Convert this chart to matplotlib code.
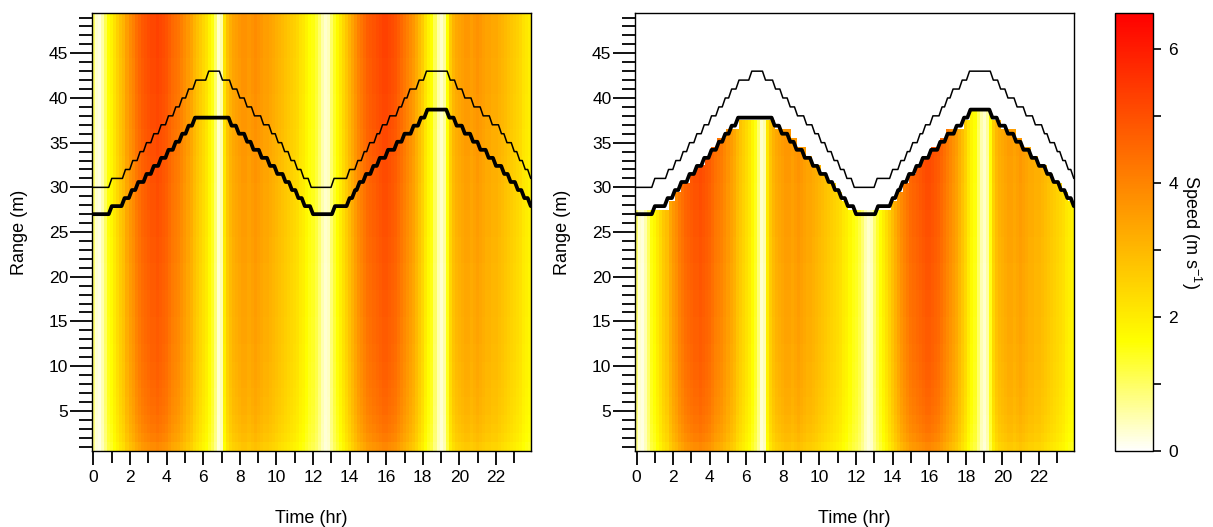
import colorsys

import matplotlib

matplotlib.use("Agg")

import matplotlib.pyplot as plt
import numpy as np
from matplotlib.colors import ListedColormap

plt.rcParams["font.family"] = ["Liberation Sans", "DejaVu Sans"]
plt.rcParams["mathtext.fontset"] = "custom"
plt.rcParams["mathtext.rm"] = "Liberation Sans"
plt.rcParams["mathtext.default"] = "regular"

# 10-minute time bins (hr) and 1 m range bins
n_time = 144
bin_hr = 1 / 6
range_bins = np.arange(1, 50)

# depth-averaged speed per 10-min bin (m/s), one row per 2 hours
speed_by_time = [
    0.9, 0.3, 0.2, 0.5, 1.0, 1.5, 1.7, 2.0, 2.3, 2.6, 2.8, 3.2,
    3.5, 3.7, 4.0, 4.2, 4.4, 4.5, 4.6, 4.7, 4.7, 4.8, 4.7, 4.6,
    4.5, 4.3, 4.1, 4.0, 3.9, 3.7, 3.5, 3.3, 3.1, 2.8, 2.6, 2.4,
    2.2, 2.0, 1.7, 1.4, 0.9, 0.3, 0.5, 2.0, 2.6, 2.9, 3.1, 3.2,
    3.3, 3.4, 3.4, 3.3, 3.4, 3.5, 3.4, 3.3, 3.2, 3.2, 3.1, 3.0,
    2.9, 2.8, 2.7, 2.6, 2.5, 2.4, 2.3, 2.2, 2.0, 1.9, 1.7, 1.5,
    1.4, 1.2, 0.9, 0.5, 0.3, 0.4, 0.9, 1.3, 1.6, 1.9, 2.2, 2.5,
    2.8, 3.1, 3.4, 3.7, 3.9, 4.1, 4.3, 4.4, 4.5, 4.6, 4.7, 4.8,
    4.8, 4.7, 4.6, 4.5, 4.3, 4.1, 3.9, 3.7, 3.5, 3.3, 3.0, 2.7,
    2.4, 2.0, 1.7, 1.5, 1.0, 0.5, 0.3, 0.6, 1.5, 2.4, 2.8, 3.0,
    3.1, 3.2, 3.3, 3.3, 3.2, 3.3, 3.4, 3.3, 3.2, 3.1, 3.1, 3.0,
    3.0, 2.9, 2.8, 2.7, 2.6, 2.5, 2.4, 2.3, 2.2, 2.0, 1.9, 1.8,
]

# relative speed with height above the bed, range bins 1..49
shear_by_range = [
    0.82, 0.87, 0.90, 0.92, 0.94, 0.95, 0.96, 0.97, 0.98, 0.98,
    0.99, 0.99, 1.00, 1.00, 1.00, 1.01, 1.01, 1.01, 1.02, 1.02,
    1.02, 1.03, 1.03, 1.03, 1.04, 1.04, 1.04, 1.05, 1.05, 1.05,
    1.06, 1.06, 1.06, 1.07, 1.07, 1.07, 1.08, 1.08, 1.08, 1.08,
    1.09, 1.09, 1.09, 1.09, 1.10, 1.10, 1.10, 1.10, 1.10,
]

# water depth (thin line): start level, then change times (hr) and new levels (m)
depth_start = 30
depth_change_t = [
    1.0, 1.75, 2.15, 2.55, 2.9, 3.3, 3.7, 4.1, 4.5, 4.85, 5.2, 5.6, 6.3,
    7.05, 7.6, 8.0, 8.4, 8.8, 9.3, 9.75, 10.1, 10.45, 10.8, 11.15, 11.5, 11.9,
    13.15, 14.0, 14.45, 14.8, 15.1, 15.5, 15.8, 16.2, 16.7, 17.0, 17.3, 17.8, 18.2,
    19.5, 19.9, 20.3, 20.8, 21.3, 21.8, 22.3, 22.6, 23.0, 23.3, 23.6, 23.9,
]
depth_change_lv = [
    31, 32, 33, 34, 35, 36, 37, 38, 39, 40, 41, 42, 43,
    42, 41, 40, 39, 38, 37, 36, 35, 34, 33, 32, 31, 30,
    31, 32, 33, 34, 35, 36, 37, 38, 39, 40, 41, 42, 43,
    42, 41, 40, 39, 38, 37, 36, 35, 34, 33, 32, 31,
]

# side-lobe cutoff (thick line)
cutoff_start = 27.0
cutoff_change_t = [
    1.0, 1.7, 2.1, 2.45, 2.9, 3.3, 3.7, 4.1, 4.5, 4.85, 5.2, 5.55,
    7.55, 7.95, 8.4, 8.75, 9.2, 9.65, 10.05, 10.5, 10.85, 11.2, 11.55, 12.0,
    13.2, 14.0, 14.3, 14.55, 14.9, 15.3, 15.65, 16.1, 16.6, 17.0, 17.5, 17.9, 18.25,
    19.45, 19.85, 20.3, 20.75, 21.15, 21.6, 22.0, 22.45, 22.8, 23.2, 23.55, 23.9,
]
cutoff_change_lv = [
    27.9, 28.8, 29.7, 30.6, 31.5, 32.4, 33.3, 34.2, 35.1, 36.0, 36.9, 37.8,
    36.9, 36.0, 35.1, 34.2, 33.3, 32.4, 31.5, 30.6, 29.7, 28.8, 27.9, 27.0,
    27.9, 28.8, 29.7, 30.6, 31.5, 32.4, 33.3, 34.2, 35.1, 36.0, 36.9, 37.8, 38.7,
    37.8, 36.9, 36.0, 35.1, 34.2, 33.3, 32.4, 31.5, 30.6, 29.7, 28.8, 27.9,
]

speed_max = 6.54


def heat_cmap(n=256):
    # reversed R heat.colors: white -> yellow -> orange -> red
    j = n // 4
    i = n - j
    cols = [colorsys.hsv_to_rgb(h, 1, 1) for h in np.linspace(0, 1 / 6, i)]
    cols += [colorsys.hsv_to_rgb(1 / 6, s, 1)
             for s in np.linspace(1 - 1 / (2 * j), 1 / (2 * j), j)]
    return ListedColormap(cols[::-1])


def step_line(start, change_t, change_lv, t_end):
    xs, ys = [-0.1], [start]
    prev = start
    for tc, lv in zip(change_t, change_lv):
        xs += [tc - bin_hr, tc]
        ys += [prev, lv]
        prev = lv
    xs.append(t_end)
    ys.append(prev)
    return np.array(xs), np.array(ys)


def level_at(times, start, change_t, change_lv):
    out = np.full(len(times), float(start))
    for tc, lv in zip(change_t, change_lv):
        out[times >= tc] = lv
    return out


def style_axes(ax):
    ax.set_xlim(-bin_hr / 2, (n_time - 0.5) * bin_hr)
    ax.set_ylim(0.5, 49.5)
    ax.set_xticks(np.arange(0, 24, 2))
    ax.set_xticks(np.arange(1, 24, 2), minor=True)
    ax.set_yticks(np.arange(5, 50, 5))
    ax.set_yticks([v for v in range(1, 50) if v % 5], minor=True)
    ax.tick_params(axis="x", which="major", length=10, width=1.3,
                   labelsize=12.5, pad=4)
    ax.tick_params(axis="x", which="minor", length=8.5, width=1.3)
    ax.tick_params(axis="y", which="major", length=16, width=1.3,
                   labelsize=12.5, pad=1)
    ax.tick_params(axis="y", which="minor", length=9.5, width=1.3)
    for sp in ax.spines.values():
        sp.set_linewidth(1.0)
    ax.text(0.5, -0.153, "Time (hr)", transform=ax.transAxes,
            ha="center", va="center", fontsize=13)
    ax.text(-0.164, 0.5, "Range (m)", transform=ax.transAxes,
            ha="center", va="center", rotation=90, fontsize=13)


times = np.arange(n_time) * bin_hr
t_edges = (np.arange(n_time + 1) - 0.5) * bin_hr
r_edges = np.arange(0.5, 50.5, 1.0)
speed = np.outer(shear_by_range, speed_by_time)

cutoff_now = level_at(times, cutoff_start, cutoff_change_t, cutoff_change_lv)
masked = np.ma.masked_where(range_bins[:, None] > cutoff_now[None, :], speed)

cmap = heat_cmap()
cmap.set_bad("white")

fig = plt.figure(figsize=(12.13, 5.27), dpi=100)
ax1 = fig.add_axes([0.0758, 0.1442, 0.362, 0.831])
ax2 = fig.add_axes([0.5235, 0.1442, 0.362, 0.831])
cax = fig.add_axes([0.9195, 0.1442, 0.0313, 0.831])

t_end = (n_time - 0.5) * bin_hr + 0.1
dx, dy = step_line(depth_start, depth_change_t, depth_change_lv, t_end)
cx, cy = step_line(cutoff_start, cutoff_change_t, cutoff_change_lv, t_end)

for ax, field in ((ax1, speed), (ax2, masked)):
    mesh = ax.pcolormesh(t_edges, r_edges, field, cmap=cmap,
                         vmin=0, vmax=speed_max, shading="flat")
    ax.plot(dx, dy, color="black", linewidth=1.1)
    ax.plot(cx, cy, color="black", linewidth=2.7)
    style_axes(ax)

cb = fig.colorbar(mesh, cax=cax)
cb.set_ticks([0, 2, 4, 6])
cb.ax.set_yticks([1, 3, 5], minor=True)
cb.ax.tick_params(which="both", length=6, width=1.2, labelsize=12.5, pad=5)
cb.outline.set_linewidth(1.0)
cax.text(2.0, 0.5, "Speed (m s$^{-1}$)", transform=cax.transAxes,
         ha="center", va="center", rotation=270, fontsize=13)

fig.savefig("out.png", dpi=100)
